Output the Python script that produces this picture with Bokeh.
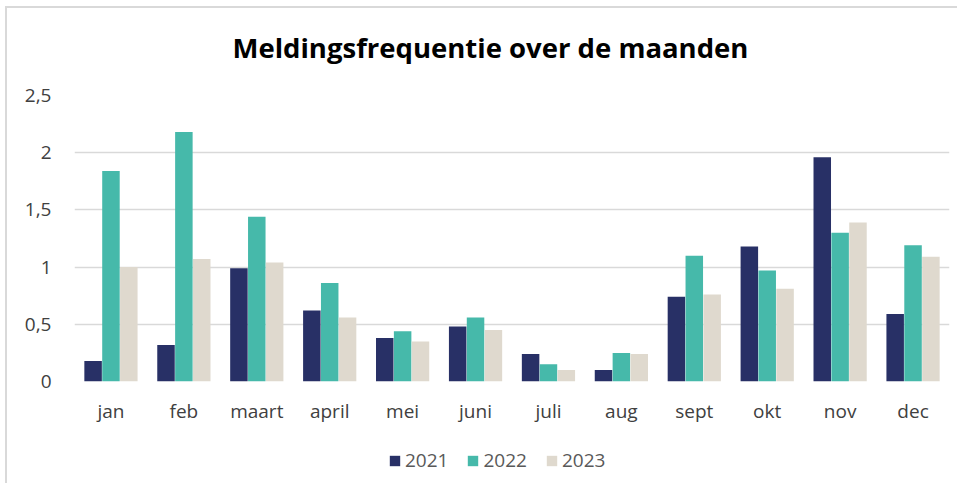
from bokeh.plotting import figure
from bokeh.models import (ColumnDataSource, FixedTicker, CustomJSTickFormatter,
                          Legend, LegendItem, Range1d)
from bokeh.layouts import column
from bokeh.transform import dodge
from bokeh.embed import file_html
from bokeh.resources import INLINE

months = ["jan", "feb", "maart", "april", "mei", "juni", "juli", "aug",
          "sept", "okt", "nov", "dec"]
years = ["2021", "2022", "2023"]
v2021 = [0.18, 0.32, 0.99, 0.62, 0.38, 0.48, 0.24, 0.10, 0.74, 1.18, 1.96, 0.59]
v2022 = [1.84, 2.18, 1.44, 0.86, 0.44, 0.56, 0.15, 0.25, 1.10, 0.97, 1.30, 1.19]
v2023 = [1.00, 1.07, 1.04, 0.56, 0.35, 0.45, 0.10, 0.24, 0.76, 0.81, 1.39, 1.09]
y_ticks = [0, 0.5, 1, 1.5, 2, 2.5]
colors = ["#283066", "#46B9AA", "#DFD9CE"]
offsets = [-0.245, 0.0, 0.245]

source = ColumnDataSource(data=dict(month=months, y2021=v2021, y2022=v2022, y2023=v2023))

FONT = "Open Sans"


def blank(fig):
    fig.axis.visible = False
    fig.grid.visible = False
    fig.outline_line_color = None


# title strip
p0 = figure(x_range=Range1d(0, 1), y_range=Range1d(0, 1), width=950, height=75,
            output_backend="svg", toolbar_location=None,
            min_border_left=0, min_border_right=0, min_border_top=0, min_border_bottom=0)
blank(p0)
p0.title.text = "Meldingsfrequentie over de maanden"
p0.title.align = "left"
p0.title.offset = 158
p0.title.text_font = FONT
p0.title.text_font_size = "27.5px"
p0.title.text_font_style = "bold"
p0.title.text_color = "#000000"
p0.title.standoff = 36

# main chart
p = figure(x_range=months, y_range=Range1d(0, 2.5), width=950, height=347,
           output_backend="svg", toolbar_location=None,
           min_border_left=67, min_border_right=8, min_border_top=12,
           min_border_bottom=49)
p.title.text = ""
p.title.standoff = 0
p.title.visible = False

for yr, col, off in zip(years, colors, offsets):
    p.vbar(x=dodge("month", off, range=p.x_range), top="y" + yr, width=0.24,
           source=source, fill_color=col, line_color=None)

p.yaxis.ticker = FixedTicker(ticks=y_ticks)
p.yaxis.formatter = CustomJSTickFormatter(code="return tick.toString().replace('.', ',');")
for ax in (p.xaxis, p.yaxis):
    ax.axis_line_color = None
    ax.major_tick_line_color = None
    ax.minor_tick_line_color = None
    ax.major_label_text_font = FONT
    ax.major_label_text_font_size = "19px"
    ax.major_label_text_color = "#404040"
p.yaxis.major_label_standoff = 17
p.xaxis.major_label_standoff = 10

p.xgrid.grid_line_color = None
p.ygrid.grid_line_color = "#D9D9D9"
p.ygrid.grid_line_width = 1.5
p.outline_line_color = None
p.x_range.range_padding = 0

# legend strip below the chart (renderers hidden; only used for legend swatches)
p2 = figure(x_range=Range1d(0, 1), y_range=Range1d(0, 1), width=950, height=53,
            output_backend="svg", toolbar_location=None,
            min_border_left=0, min_border_right=0, min_border_top=0, min_border_bottom=0)
blank(p2)
legend_renderers = []
for yr, col, off in zip(years, colors, offsets):
    r = p2.vbar(x=dodge("month", off, range=p.x_range), top="y" + yr, width=0.24,
                source=source, fill_color=col, line_color=None, visible=False)
    legend_renderers.append(r)
legend = Legend(items=[LegendItem(label=yr, renderers=[r]) for yr, r in zip(years, legend_renderers)],
                orientation="horizontal", location=(314, 10), click_policy="none")
legend.label_text_font = FONT
legend.label_text_font_size = "19px"
legend.label_text_color = "#595959"
legend.glyph_width = 13
legend.glyph_height = 13
legend.label_standoff = 4
legend.spacing = 18
legend.border_line_color = None
legend.background_fill_alpha = 0
legend.padding = 0
legend.margin = 0
p2.add_layout(legend, "center")

layout = column(p0, p, p2, spacing=0)
layout.styles = {"margin-left": "5px", "margin-top": "6px",
                 "border-left": "2px solid #D9D9D9", "border-top": "2px solid #D9D9D9"}

open("out.html", "w").write(file_html(layout, INLINE))
